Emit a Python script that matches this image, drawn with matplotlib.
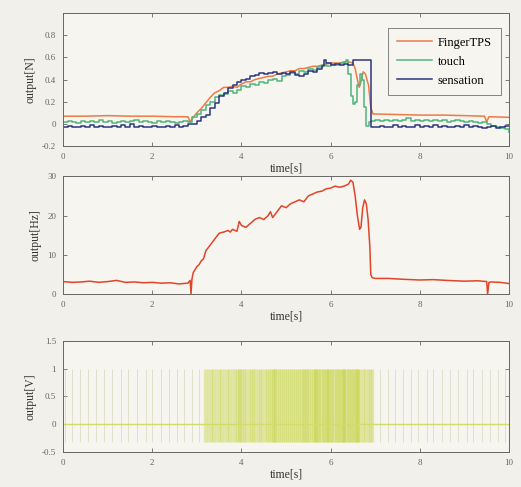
import numpy as np
import matplotlib
matplotlib.use("Agg")
import matplotlib.pyplot as plt

# ***data
# top panel: force [N]
tps_t = [0, 0.5, 1.0, 1.5, 2.0, 2.5, 2.8, 2.85, 2.9, 3.0, 3.1, 3.2, 3.3, 3.4, 3.5, 3.6, 3.7, 3.8, 3.9,
         4.0, 4.1, 4.2, 4.3, 4.4, 4.5, 4.6, 4.7, 4.8, 4.9, 5.0, 5.1, 5.2, 5.3, 5.4, 5.5, 5.6, 5.7, 5.8,
         5.9, 6.0, 6.1, 6.2, 6.3, 6.4, 6.5, 6.55, 6.6, 6.64, 6.68, 6.73, 6.78, 6.85, 6.9, 6.95, 7.5,
         8.0, 8.5, 9.0, 9.45, 9.5, 9.55, 10.0]
tps_v = [0.07, 0.07, 0.075, 0.07, 0.07, 0.065, 0.065, 0.02, 0.05, 0.10, 0.14, 0.19, 0.24, 0.28, 0.30,
         0.33, 0.33, 0.34, 0.33, 0.36, 0.38, 0.38, 0.40, 0.41, 0.42, 0.43, 0.43, 0.45, 0.46, 0.47, 0.48,
         0.48, 0.50, 0.50, 0.51, 0.52, 0.52, 0.53, 0.54, 0.55, 0.55, 0.55, 0.56, 0.56, 0.55, 0.50, 0.40,
         0.33, 0.38, 0.47, 0.45, 0.35, 0.15, 0.09, 0.085, 0.08, 0.08, 0.075, 0.07, 0.02, 0.065, 0.06]

touch_t = [0.0, 0.1, 0.2, 0.3, 0.4, 0.5, 0.6, 0.7, 0.8, 0.9, 1.0, 1.1, 1.2, 1.3, 1.4,
           1.5, 1.6, 1.7, 1.8, 1.9, 2.0, 2.1, 2.2, 2.3, 2.4, 2.5, 2.6, 2.7, 2.8,
           2.9, 3.0, 3.1, 3.2, 3.3, 3.4, 3.5, 3.6, 3.7, 3.8, 3.9, 4.0, 4.1, 4.2, 4.3, 4.4, 4.5, 4.6,
           4.7, 4.8, 4.9, 5.0, 5.1, 5.2, 5.3, 5.4, 5.5, 5.6, 5.7, 5.8, 5.9, 6.0, 6.1, 6.2, 6.3,
           6.35, 6.4, 6.45, 6.5, 6.55, 6.6, 6.65, 6.7, 6.75, 6.8, 6.85,
           6.9, 7.0, 7.1, 7.2, 7.3, 7.4, 7.5, 7.6, 7.7, 7.8, 7.9, 8.0, 8.1, 8.2, 8.3, 8.4,
           8.5, 8.6, 8.7, 8.8, 8.9, 9.0, 9.1, 9.2, 9.3, 9.4, 9.5, 9.6, 9.7, 9.8, 9.9, 10.0]
touch_v = [0.02, 0.03, 0.02, 0.01, 0.03, 0.02, 0.03, 0.02, 0.04, 0.02, 0.03, 0.01, 0.02, 0.03, 0.02,
           0.03, 0.04, 0.02, 0.03, 0.02, 0.01, 0.03, 0.02, 0.03, 0.02, 0.01, 0.02, 0.03, 0.02,
           0.06, 0.09, 0.13, 0.17, 0.20, 0.24, 0.26, 0.27, 0.30, 0.28, 0.31, 0.34, 0.33, 0.36, 0.35, 0.38,
           0.37, 0.40, 0.41, 0.39, 0.43, 0.44, 0.46, 0.45, 0.48, 0.47, 0.50, 0.49, 0.51, 0.53, 0.52, 0.54,
           0.53, 0.55, 0.56,
           0.58, 0.45, 0.25, 0.18, 0.20, 0.35, 0.45, 0.40, 0.15, -0.02, 0.02,
           0.03, 0.04, 0.03, 0.04, 0.03, 0.04, 0.03, 0.04, 0.05, 0.03, 0.04, 0.03, 0.04, 0.03, 0.04, 0.03,
           0.04, 0.02, 0.03, 0.04, 0.03, 0.02, 0.03, 0.02, 0.01, 0.02, 0.0, -0.02, -0.03, -0.04, -0.05,
           -0.07]

sens_t = [0.0, 0.1, 0.2, 0.3, 0.4, 0.5, 0.6, 0.7, 0.8, 0.9, 1.0, 1.1, 1.2, 1.3, 1.4,
          1.5, 1.6, 1.7, 1.8, 1.9, 2.0, 2.1, 2.2, 2.3, 2.4, 2.5, 2.6, 2.7, 2.8,
          2.9, 3.0, 3.1, 3.2, 3.3, 3.4, 3.5, 3.6, 3.7, 3.8, 3.9, 4.0, 4.1, 4.2, 4.3, 4.4, 4.5,
          4.6, 4.7, 4.8, 4.9, 5.0, 5.1, 5.2, 5.3, 5.4, 5.5, 5.6, 5.7, 5.8, 5.85, 5.9, 6.0, 6.1,
          6.2, 6.3, 6.4, 6.5, 6.9,
          7.0, 7.1, 7.2, 7.3, 7.4, 7.5, 7.6, 7.7, 7.8, 7.9, 8.0, 8.1, 8.2, 8.3, 8.4, 8.5,
          8.6, 8.7, 8.8, 8.9, 9.0, 9.1, 9.2, 9.3, 9.4, 9.5, 9.6, 9.7, 9.8, 9.9, 10.0]
sens_v = [-0.03, -0.02, -0.03, -0.03, -0.02, -0.03, -0.01, -0.03, -0.02, -0.03, -0.03, -0.02, -0.03,
          -0.01, -0.03, 0.0, -0.03, -0.02, -0.03, -0.03, -0.02, -0.03, -0.03, -0.02, -0.03, -0.01,
          -0.03, -0.02, 0.0,
          0.0, 0.03, 0.06, 0.08, 0.14, 0.19, 0.25, 0.28, 0.32, 0.35, 0.38, 0.40, 0.41, 0.43, 0.44, 0.46,
          0.45, 0.46, 0.47, 0.45, 0.46, 0.45, 0.47, 0.44, 0.43, 0.45, 0.48, 0.47, 0.50, 0.52, 0.58, 0.55,
          0.53, 0.54, 0.53, 0.54, 0.53, 0.58, -0.03,
          -0.03, -0.02, -0.03, -0.03, -0.01, -0.03, -0.02, -0.03, -0.03, -0.01, -0.03, -0.02, -0.03,
          -0.01, -0.03, -0.02, -0.03, -0.03, -0.02, -0.03, -0.01, -0.03, -0.02, -0.03, -0.04, -0.03,
          -0.02, -0.04, -0.03, -0.02, -0.02]

# middle panel: firing frequency [Hz]
freq_t = [0, 0.2, 0.4, 0.6, 0.8, 1.0, 1.2, 1.4, 1.6, 1.8, 2.0, 2.2, 2.4, 2.6, 2.8, 2.85, 2.87, 2.89,
          2.92, 3.0, 3.05, 3.1, 3.15, 3.2, 3.3, 3.4, 3.5, 3.6, 3.7, 3.75, 3.8, 3.9, 3.95, 4.0, 4.1, 4.2,
          4.3, 4.4, 4.5, 4.6, 4.65, 4.7, 4.8, 4.9, 5.0, 5.1, 5.2, 5.3, 5.4, 5.5, 5.6, 5.7, 5.8, 5.9, 6.0,
          6.1, 6.2, 6.3, 6.4, 6.45, 6.5, 6.55, 6.6, 6.65, 6.68, 6.72, 6.76, 6.8, 6.84, 6.88, 6.9, 6.93,
          7.0, 7.3, 7.6, 8.0, 8.3, 8.6, 9.0, 9.3, 9.5, 9.52, 9.55, 9.6, 9.8, 10.0]
freq_v = [3.2, 3.0, 3.1, 3.3, 3.0, 3.2, 3.5, 3.0, 3.1, 2.9, 3.0, 2.8, 2.9, 2.6, 2.8, 3.5, 0.0, 3.8,
          5.5, 7.0, 7.5, 8.5, 9.0, 11.0, 12.5, 14.0, 15.5, 15.8, 16.2, 15.8, 16.5, 16.0, 18.5, 17.5,
          17.0, 18.0, 19.0, 19.5, 19.0, 20.0, 21.0, 19.5, 21.0, 22.5, 22.0, 23.0, 23.5, 24.0, 23.5, 25.0,
          25.5, 26.0, 26.2, 26.8, 27.0, 27.5, 27.2, 27.5, 28.0, 29.0, 28.5, 25.0, 20.0, 16.5, 17.0, 22.0,
          24.0, 23.0, 19.0, 12.0, 5.0, 4.2, 4.0, 4.0, 3.8, 3.6, 3.7, 3.5, 3.3, 3.4, 3.2, 0.0, 3.0, 3.1,
          3.0, 2.7]

# bottom panel: stimulation pulses [V]
sparse_spikes = [0.05, 0.2, 0.38, 0.55, 0.75, 0.92, 1.1, 1.3, 1.45, 1.65, 1.85, 2.0, 2.2, 2.38, 2.55,
                 2.72, 2.9, 3.05, 7.1, 7.28, 7.45, 7.62, 7.8, 7.95, 8.15, 8.3, 8.5, 8.68, 8.85, 9.05,
                 9.2, 9.4, 9.58, 9.75, 9.92]
dense_spikes = [3.18, 3.24, 3.31, 3.37, 3.42, 3.50, 3.55, 3.61, 3.68, 3.73, 3.79, 3.85, 3.90, 3.95,
                3.97, 4.01, 4.06, 4.11, 4.17, 4.22, 4.27, 4.31, 4.37, 4.42, 4.47, 4.52, 4.57, 4.61,
                4.66, 4.71, 4.72, 4.76, 4.80, 4.85, 4.89, 4.94, 4.98, 5.03, 5.07, 5.11, 5.16, 5.20,
                5.24, 5.28, 5.33, 5.37, 5.41, 5.45, 5.48, 5.52, 5.56, 5.60, 5.64, 5.65, 5.67, 5.71,
                5.75, 5.79, 5.82, 5.86, 5.89, 5.92, 5.93, 5.96, 6.00, 6.04, 6.07, 6.11, 6.14, 6.18,
                6.21, 6.25, 6.28, 6.29, 6.31, 6.35, 6.38, 6.42, 6.45, 6.48, 6.52, 6.55, 6.59, 6.60,
                6.62, 6.66, 6.72, 6.78, 6.83, 6.88, 6.93]

xticks = [0, 2, 4, 6, 8, 10]

#***plot
plt.rcParams['font.family'] = ['Liberation Serif', 'DejaVu Serif']
fig = plt.figure(figsize=(5.21, 4.87), dpi=100, facecolor='#f1f0eb')
ax1 = fig.add_axes([0.121, 0.700, 0.856, 0.273])
ax2 = fig.add_axes([0.121, 0.396, 0.856, 0.242])
ax3 = fig.add_axes([0.121, 0.072, 0.856, 0.228])

for ax in (ax1, ax2, ax3):
    ax.set_facecolor('#f6f5f0')
    ax.set_xlim(0, 10)
    ax.set_xticks(xticks)
    ax.tick_params(direction='in', top=True, right=True, labelsize=6.5, colors='#666666',
                   length=3, width=0.6, pad=5)
    for s in ax.spines.values():
        s.set_color('#666666')
        s.set_linewidth(0.7)
    ax.set_xlabel('time[s]', fontsize=8.5, color='#333333', labelpad=1)

ax1.plot(tps_t, tps_v, color='#ee7a45', lw=1.1, label='FingerTPS')
ax1.plot(touch_t, touch_v, color='#4fb57a', lw=1.1, drawstyle='steps-post', label='touch')
ax1.plot(sens_t, sens_v, color='#2c3580', lw=1.1, drawstyle='steps-post', label='sensation')
ax1.set_ylim(-0.2, 1.0)
ax1.set_yticks([-0.2, 0, 0.2, 0.4, 0.6, 0.8])
ax1.set_yticklabels(['-0.2', '0', '0.2', '0.4', '0.6', '0.8'])
ax1.set_ylabel('output[N]', fontsize=8.5, color='#333333')
leg = ax1.legend(loc='upper right', fontsize=9, handlelength=2.8, handletextpad=0.5, frameon=True,
                 fancybox=False, borderpad=0.7, labelspacing=0.55, bbox_to_anchor=(0.995, 0.935))
leg.get_frame().set_edgecolor('#666666')
leg.get_frame().set_linewidth(0.7)
leg.get_frame().set_facecolor('#f6f5f0')

ax2.plot(freq_t, freq_v, color='#e0452a', lw=1.1)
ax2.set_ylim(0, 30)
ax2.set_yticks([0, 10, 20, 30])
ax2.set_ylabel('output[Hz]', fontsize=8.5, color='#333333')

ax3.vlines(sparse_spikes, -0.32, 1.0, color='#d6d8b8', lw=0.6, alpha=0.8)
ax3.vlines(dense_spikes, -0.32, 1.0, color='#c6d445', lw=2.4, alpha=0.42)
ax3.axhline(0, color='#d2dc6a', lw=1.0)
ax3.set_ylim(-0.5, 1.5)
ax3.set_yticks([-0.5, 0, 0.5, 1, 1.5])
ax3.set_yticklabels(['-0.5', '0', '0.5', '1', '1.5'])
ax3.set_ylabel('output[V]', fontsize=8.5, color='#333333')

fig.savefig("out.png", dpi=100, facecolor=fig.get_facecolor())
